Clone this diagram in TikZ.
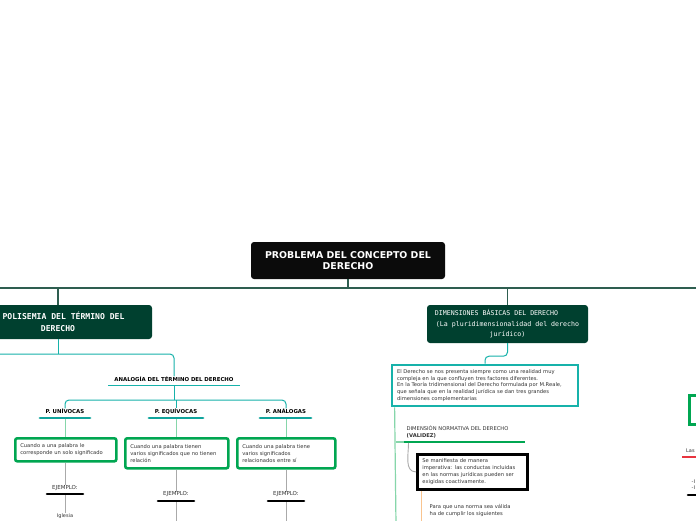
\documentclass[tikz,border=0pt]{standalone}
\usepackage{fontspec}
\setmainfont{DejaVu Sans}
\newfontfamily\pixfont{DejaVu Sans Mono}
\definecolor{rootfill}{HTML}{0B0B0B}
\definecolor{dkgreen}{HTML}{00402F}
\definecolor{topline}{HTML}{2E5E50}
\definecolor{tealc}{HTML}{17B2AA}
\definecolor{tealu}{HTML}{10A49C}
\definecolor{greenc}{HTML}{00A651}
\definecolor{lgreen}{HTML}{86D6AA}
\definecolor{grayl}{HTML}{AAAAAA}
\definecolor{orangel}{HTML}{F9C48F}
\definecolor{redl}{HTML}{E8343F}
\definecolor{txt}{HTML}{333333}
\newcommand\smf{\fontsize{5.2}{6.9}\selectfont}
\begin{document}
\begin{tikzpicture}[x=1pt,y=-1pt,
  rootbox/.style={fill=rootfill,rounded corners=3,minimum width=194,minimum height=37,text=white,
    font=\bfseries\fontsize{9.4}{11}\selectfont,align=center,inner sep=0},
  hbox/.style={fill=dkgreen,rounded corners=3,text=white,align=center,inner sep=0},
  gbox/.style={draw=greenc,line width=2.6,rounded corners=2,fill=white,text=txt,font=\smf,
    align=left,inner xsep=5,inner ysep=3,anchor=north west},
  lbl/.style={text=black,font=\bfseries\fontsize{5.4}{6.5}\selectfont,inner sep=0},
  ej/.style={text=txt,font=\fontsize{5.5}{6.5}\selectfont,inner sep=0},
  body/.style={text=txt,font=\smf,align=left,inner sep=0},
  tline/.style={topline,line width=1.3},
  tealline/.style={tealc,line width=1,rounded corners=4},
  lgline/.style={lgreen,line width=1},
  gline/.style={grayl,line width=0.9},
  ulteal/.style={tealu,line width=2.8,line cap=round},
  ulblack/.style={black,line width=2.6,line cap=round},
]
\useasboundingbox (0,0) rectangle (696,520);
\fill[white] (0,0) rectangle (696,520);

% root
\node[rootbox] (root) at (348,260.5) {PROBLEMA DEL CONCEPTO DEL\\DERECHO};
\coordinate (eL) at (-5,288);
\coordinate (eR) at (701,288);

% main headings
\node[hbox,minimum width=188,minimum height=34,font=\pixfont\bfseries\fontsize{8.1}{12}\selectfont] (pol) at (58,322)
  {\hspace*{11pt}POLISEMIA DEL TÉRMINO DEL\\DERECHO};
\node[hbox,minimum width=161,minimum height=38,font=\pixfont\fontsize{6.6}{10.5}\selectfont] (dim) at (507.5,324)
  {DIMENSIONES BÁSICAS DEL DERECHO\hspace*{22pt}\\(La pluridimensionalidad del derecho\\jurídico)};

\draw[tline] (root.south) -- (root.south |- eL);
\draw[tline] (eL) -- (eR);
\draw[tline] (pol.north |- eL) -- (pol.north);
\draw[tline] (dim.north |- eL) -- (dim.north);

% analogia
\node[lbl] (ana) at (174,379) {ANALOGÍA DEL TÉRMINO DEL DERECHO};
\coordinate (eL2) at (-5,354);
\draw[tealc,line width=1] (pol.south) -- (pol.south |- eL2);
\draw[tealline] (eL2) -| (ana.north);
\draw[tealc,line width=0.9] (108,385) -- (240,385);
\coordinate (anaU) at (174,385);

\node[lbl] (p1) at (65,411) {P. UNÍVOCAS};
\node[lbl] (p2) at (176,411) {P. EQUÍVOCAS};
\node[lbl] (p3) at (286,411) {P. ANÁLOGAS};
\draw[tealc,line width=1] (anaU) -- (anaU |- 0,400);
\draw[tealline] (p1.north) |- (p3.north |- 0,400) -- (p3.north);
\draw[tealc,line width=1] (p2.north |- 0,400) -- (p2.north);
\draw[ulteal] (40,418) -- (90,418);
\draw[ulteal] (149,418) -- (203,418);
\draw[ulteal] (260,418) -- (311,418);

\node[gbox,text width=91,minimum height=23] (b1) at (14,437)
  {Cuando a una palabra le\\corresponde un solo significado};
\node[gbox,text width=93,minimum height=30] (b2) at (124,437)
  {Cuando una palabra tienen\\varios significados que no tienen\\relación};
\node[gbox,text width=88,minimum height=30] (b3) at (236,437)
  {Cuando una palabra tiene\\varios significados\\relacionados entre sí};

\draw[lgline] (p1.south |- 0,419) -- (b1.north -| p1.south);
\draw[lgline] (p2.south |- 0,419) -- (b2.north -| p2.south);
\draw[lgline] (p3.south |- 0,419) -- (b3.north -| p3.south);

\node[ej] (e1) at (65,488) {EJEMPLO:};
\node[ej] (e2) at (176,494.5) {EJEMPLO:};
\node[ej] (e3) at (286,494.5) {EJEMPLO:};
\draw[gline] (b1.south -| e1.north) -- (e1.north);
\draw[gline] (b2.south -| e2.north) -- (e2.north);
\draw[gline] (b3.south -| e3.north) -- (e3.north);
\draw[ulblack] (47,494) -- (83,494);
\draw[ulblack] (158,501) -- (194,501);
\draw[ulblack] (268,501) -- (304,501);
\node[ej,font=\fontsize{5}{6}\selectfont] (x1) at (65,516) {Iglesia};
\draw[gline] (65,495) -- (x1.north);
\coordinate (x2) at (176,525);
\coordinate (x3) at (286,525);
\draw[gline] (176,502) -- (x2);
\draw[gline] (286,502) -- (x3);

% dimensiones box
\node[draw=tealc,line width=2.8,fill=white,text=txt,font=\smf,align=left,text width=176,
  inner xsep=5,inner ysep=3.5,minimum height=41] (db) at (485,385.5)
  {El Derecho se nos presenta siempre como una realidad muy\\compleja en la que confluyen tres factores diferentes.\\En la Teoría tridimensional del Derecho formulada por M.Reale,\\que señala que en la realidad jurídica se dan tres grandes\\dimensiones complementarias};
\draw[tealline] (dim.south) -- ++(0,13) -| (db.north);

\coordinate (dv) at (396,525);
\draw[lgline,line width=1.2] ([xshift=4]db.south west) -- (dv);
\draw[lgline,line width=1.2] (396,442) -- (404,442);

\node[body,anchor=south west,font=\fontsize{5.2}{7.5}\selectfont] (dn) at (406.5,438.5)
  {DIMENSIÓN NORMATIVA DEL DERECHO\\\textbf{(VALIDEZ)}};
\draw[greenc,line width=2.8] (404,442) -- (525,442);

\node[draw=black,line width=2.8,fill=white,text=txt,font=\smf,align=left,text width=100,
  inner xsep=5,inner ysep=3,minimum height=35,anchor=north west] (bb) at (416,453)
  {Se manifiesta de manera\\imperativa: las conductas incluidas\\en las normas jurídicas pueden ser\\exigidas coactivamente.};
\draw[gline] (408.5,443) to[out=-90,in=180] (bb.west);

\node[body,anchor=north west] (pq) at (429.5,504)
  {Para que una norma sea válida\\ha de cumplir los siguientes};
\coordinate (ov) at (421,525);
\draw[orangel,line width=1] ([xshift=5]bb.south west) -- (ov);

% right edge fragments
\node[draw=greenc,line width=2.6,fill=white,minimum width=30,minimum height=29,anchor=north west,inner sep=0] (rb) at (688,394) {};
\node[ej,anchor=south west,font=\fontsize{5}{6}\selectfont] (las) at (686,452.5) {Las};
\draw[redl,line width=2.8] (682,457) -- (700,457);
\node[ej,anchor=west,align=left,font=\fontsize{5}{6.5}\selectfont] (li) at (691.5,484.5) {-I\\-I};
\draw[ulblack] (688,495) -- (700,495);
\end{tikzpicture}
\end{document}
